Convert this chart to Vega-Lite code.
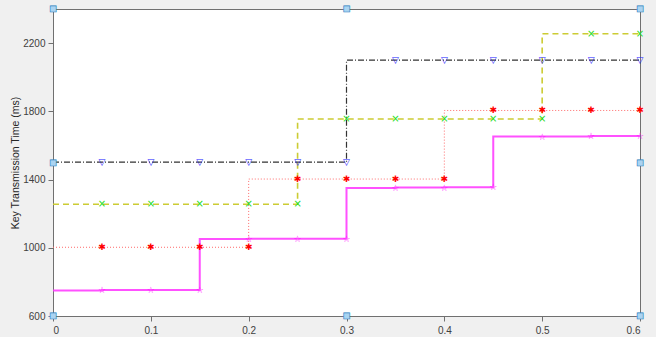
{
  "$schema": "https://vega.github.io/schema/vega-lite/v6.json",
  "autosize": "none",
  "width": 587,
  "height": 307,
  "padding": {"left": 53, "top": 9, "right": 16, "bottom": 21},
  "background": "#f0f0f0",
  "config": {
    "view": {"fill": "white", "stroke": "#707070", "strokeWidth": 1},
    "axis": {
      "domainColor": "#707070",
      "tickColor": "#707070",
      "tickSize": 5,
      "labelFont": "Liberation Sans",
      "labelFontSize": 10,
      "labelColor": "#404040",
      "titleFont": "Liberation Sans",
      "titleFontSize": 10.5,
      "titleFontWeight": "normal",
      "titleColor": "#262626",
      "grid": false
    }
  },
  "datasets": {
    "pts": [
      {"series": "0.3s", "x": 0, "y": 750},
      {"series": "0.3s", "x": 0.05, "y": 750},
      {"series": "0.3s", "x": 0.1, "y": 752},
      {"series": "0.3s", "x": 0.15, "y": 753},
      {"series": "0.3s", "x": 0.2, "y": 1052},
      {"series": "0.3s", "x": 0.25, "y": 1053},
      {"series": "0.3s", "x": 0.3, "y": 1053},
      {"series": "0.3s", "x": 0.35, "y": 1350},
      {"series": "0.3s", "x": 0.4, "y": 1353},
      {"series": "0.3s", "x": 0.45, "y": 1355},
      {"series": "0.3s", "x": 0.5, "y": 1652},
      {"series": "0.3s", "x": 0.55, "y": 1653},
      {"series": "0.3s", "x": 0.6, "y": 1655},
      {"series": "0.4s", "x": 0, "y": 1003},
      {"series": "0.4s", "x": 0.05, "y": 1003},
      {"series": "0.4s", "x": 0.1, "y": 1003},
      {"series": "0.4s", "x": 0.15, "y": 1003},
      {"series": "0.4s", "x": 0.2, "y": 1003},
      {"series": "0.4s", "x": 0.25, "y": 1403},
      {"series": "0.4s", "x": 0.3, "y": 1403},
      {"series": "0.4s", "x": 0.35, "y": 1403},
      {"series": "0.4s", "x": 0.4, "y": 1403},
      {"series": "0.4s", "x": 0.45, "y": 1805},
      {"series": "0.4s", "x": 0.5, "y": 1805},
      {"series": "0.4s", "x": 0.55, "y": 1805},
      {"series": "0.4s", "x": 0.6, "y": 1805},
      {"series": "0.5s", "x": 0, "y": 1255},
      {"series": "0.5s", "x": 0.05, "y": 1255},
      {"series": "0.5s", "x": 0.1, "y": 1255},
      {"series": "0.5s", "x": 0.15, "y": 1255},
      {"series": "0.5s", "x": 0.2, "y": 1255},
      {"series": "0.5s", "x": 0.25, "y": 1255},
      {"series": "0.5s", "x": 0.3, "y": 1755},
      {"series": "0.5s", "x": 0.35, "y": 1755},
      {"series": "0.5s", "x": 0.4, "y": 1755},
      {"series": "0.5s", "x": 0.45, "y": 1755},
      {"series": "0.5s", "x": 0.5, "y": 1755},
      {"series": "0.5s", "x": 0.55, "y": 2255},
      {"series": "0.5s", "x": 0.6, "y": 2255},
      {"series": "0.6s", "x": 0, "y": 1502},
      {"series": "0.6s", "x": 0.05, "y": 1502},
      {"series": "0.6s", "x": 0.1, "y": 1502},
      {"series": "0.6s", "x": 0.15, "y": 1502},
      {"series": "0.6s", "x": 0.2, "y": 1502},
      {"series": "0.6s", "x": 0.25, "y": 1502},
      {"series": "0.6s", "x": 0.3, "y": 1502},
      {"series": "0.6s", "x": 0.35, "y": 2100},
      {"series": "0.6s", "x": 0.4, "y": 2100},
      {"series": "0.6s", "x": 0.45, "y": 2100},
      {"series": "0.6s", "x": 0.5, "y": 2100},
      {"series": "0.6s", "x": 0.55, "y": 2100},
      {"series": "0.6s", "x": 0.6, "y": 2100}
    ],
    "anch": [
      {"x": 0, "y": 600}, {"x": 0, "y": 1500}, {"x": 0, "y": 2400},
      {"x": 0.3, "y": 600}, {"x": 0.3, "y": 2400},
      {"x": 0.6, "y": 600}, {"x": 0.6, "y": 1500}, {"x": 0.6, "y": 2400}
    ]
  },
  "layer": [
    {
      "data": {"name": "pts"},
      "transform": [{"filter": {"field": "series", "equal": "0.3s"}}],
      "mark": {"type": "line", "interpolate": "step-before", "color": "#ff33ff", "strokeWidth": 2, "opacity": 0.85},
      "encoding": {
        "x": {"field": "x", "type": "quantitative", "scale": {"domain": [0, 0.6], "nice": false, "zero": false},
              "axis": {"values": [0, 0.1, 0.2, 0.3, 0.4, 0.5, 0.6], "format": "~g", "labelOverlap": false, "title": null, "labelPadding": 4}},
        "y": {"field": "y", "type": "quantitative", "scale": {"domain": [600, 2400], "nice": false, "zero": false},
              "axis": {"values": [600, 800, 1000, 1200, 1400, 1600, 1800, 2000, 2200, 2400], "format": "d", "labelOverlap": false, "title": "Key Transmission Time (ms)", "labelPadding": 3, "titlePadding": 2}}
      }
    },
    {
      "data": {"name": "pts"},
      "transform": [{"filter": {"field": "series", "equal": "0.4s"}}],
      "mark": {"type": "line", "interpolate": "step-before", "color": "#ff6a6a", "strokeWidth": 1, "strokeDash": [1, 2]},
      "encoding": {
        "x": {"field": "x", "type": "quantitative"},
        "y": {"field": "y", "type": "quantitative"}
      }
    },
    {
      "data": {"name": "pts"},
      "transform": [{"filter": {"field": "series", "equal": "0.5s"}}],
      "mark": {"type": "line", "interpolate": "step-before", "color": "#cccc33", "strokeWidth": 1.6, "strokeDash": [6, 4]},
      "encoding": {
        "x": {"field": "x", "type": "quantitative"},
        "y": {"field": "y", "type": "quantitative"}
      }
    },
    {
      "data": {"name": "pts"},
      "transform": [{"filter": {"field": "series", "equal": "0.6s"}}],
      "mark": {"type": "line", "interpolate": "step-before", "color": "#333333", "strokeWidth": 1.2, "strokeDash": [6, 2, 1, 2]},
      "encoding": {
        "x": {"field": "x", "type": "quantitative"},
        "y": {"field": "y", "type": "quantitative"}
      }
    },
    {
      "data": {"name": "pts"},
      "transform": [{"filter": {"field": "series", "equal": "0.3s"}}, {"filter": {"not": {"field": "x", "equal": 0}}}],
      "mark": {"type": "text", "text": "☆", "font": "DejaVu Sans", "fontSize": 9, "color": "#ff00ff", "align": "center", "baseline": "middle"},
      "encoding": {
        "x": {"field": "x", "type": "quantitative"},
        "y": {"field": "y", "type": "quantitative"}
      }
    },
    {
      "data": {"name": "pts"},
      "transform": [{"filter": {"field": "series", "equal": "0.4s"}}, {"filter": {"not": {"field": "x", "equal": 0}}}],
      "mark": {"type": "text", "text": "✱", "font": "DejaVu Sans", "fontSize": 9, "color": "#ff0000", "align": "center", "baseline": "middle"},
      "encoding": {
        "x": {"field": "x", "type": "quantitative"},
        "y": {"field": "y", "type": "quantitative"}
      }
    },
    {
      "data": {"name": "pts"},
      "transform": [{"filter": {"field": "series", "equal": "0.5s"}}, {"filter": {"not": {"field": "x", "equal": 0}}}],
      "mark": {"type": "text", "text": "×", "font": "DejaVu Sans", "fontSize": 10, "color": "#22dd22", "align": "center", "baseline": "middle"},
      "encoding": {
        "x": {"field": "x", "type": "quantitative"},
        "y": {"field": "y", "type": "quantitative"}
      }
    },
    {
      "data": {"name": "pts"},
      "transform": [{"filter": {"field": "series", "equal": "0.6s"}}, {"filter": {"not": {"field": "x", "equal": 0}}}],
      "mark": {"type": "text", "text": "▽", "font": "DejaVu Sans", "fontSize": 9, "color": "#2020ff", "align": "center", "baseline": "middle"},
      "encoding": {
        "x": {"field": "x", "type": "quantitative"},
        "y": {"field": "y", "type": "quantitative"}
      }
    },
    {
      "data": {"name": "anch"},
      "mark": {"type": "text", "text": "■", "font": "DejaVu Sans", "fontSize": 8, "fill": "#aad4f2", "stroke": "#2a7fc0", "strokeWidth": 0.6, "align": "center", "baseline": "middle"},
      "encoding": {
        "x": {"field": "x", "type": "quantitative"},
        "y": {"field": "y", "type": "quantitative"}
      }
    }
  ]
}
